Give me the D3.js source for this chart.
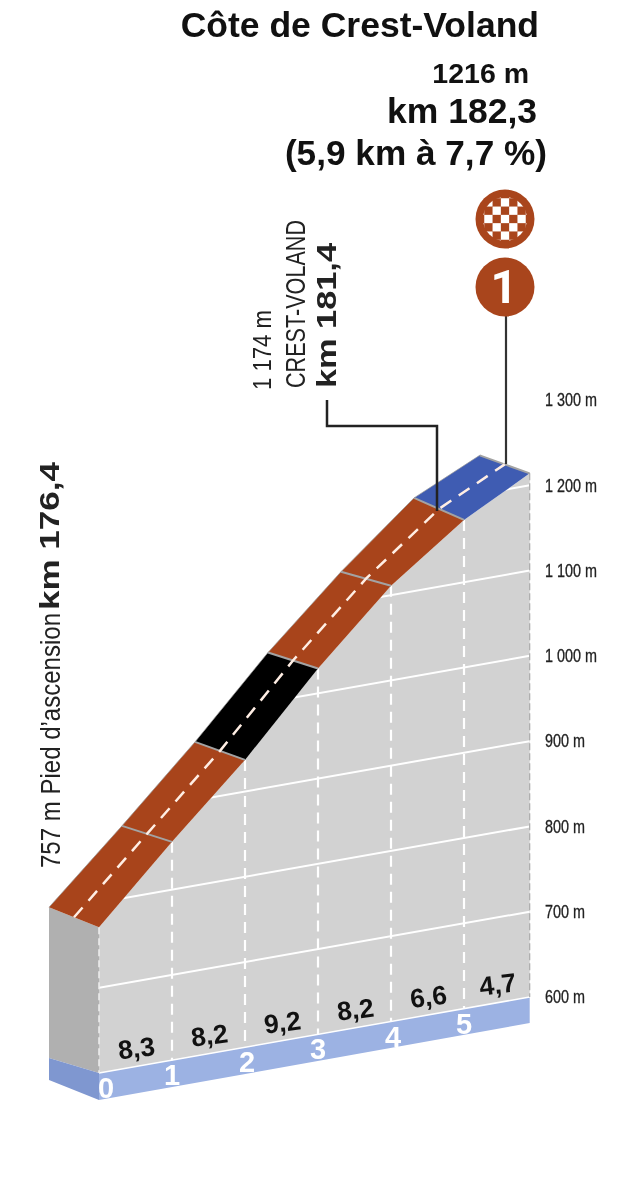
<!DOCTYPE html>
<html><head><meta charset="utf-8">
<script src="https://cdn.jsdelivr.net/npm/d3@7/dist/d3.min.js"></script>
<style>html,body{margin:0;background:#fff}svg{display:block;filter:blur(.4px)}</style>
</head><body><div id="chart"></div>
<script>
const kmMarks=[0,1,2,3,4,5,5.9];
const elevations=[771,856,937,1029,1111,1173,1214];
const gradients=["8,3","8,2","9,2","8,2","6,6","4,7"];
const segmentKinds=["hard","hard","extreme","hard","hard","easy"];
const kmLabels=[0,1,2,3,4,5];
const altTicks=[600,700,800,900,1000,1100,1200,1300];
const gridAlts=[700,800,900,1000,1100,1200];
const colors={hard:"#a8441b",extreme:"#000",easy:"#3f5cb2"};

const W=618,H=1200;
const SANS="'Liberation Sans',Arial,sans-serif";
const svg=d3.select("#chart").append("svg").attr("width",W).attr("height",H).attr("viewBox",[0,0,W,H]);
const x=d3.scaleLinear().domain([0,5]).range([99,464]);
const yRight=d3.scaleLinear().domain([600,1300]).range([997,400]);
const xEnd=x(5.9), skew=0.1767;
const y=(alt,px)=>yRight(alt)+skew*(xEnd-px);
const depthX=-50, edgeLift=[20,16,18,16,14,22,18], baseH=26;
const pts=kmMarks.map((k,i)=>{
  const px=x(k),py=y(elevations[i],px);
  return {k,px,py,bx:px+depthX,by:py-edgeLift[i]};
});
const baseY=px=>y(600,px);
const poly=a=>a.map(p=>p.join(",")).join(" ");

// clip + main face
const facePts=[...pts.map(p=>[p.px,p.py]),[xEnd,baseY(xEnd)],[x(0),baseY(x(0))]];
svg.append("clipPath").attr("id","face").append("polygon").attr("points",poly(facePts));
svg.append("polygon").attr("points",poly(facePts)).attr("fill","#d2d2d2");

// left face
const x0=x(0), bx=x0+depthX;
svg.append("polygon").attr("fill","#b0b0b0")
  .attr("points",poly([[bx,pts[0].by],[x0,pts[0].py],[x0,baseY(x0)],[bx,baseY(x0)-15]]));
// base
svg.append("polygon").attr("fill","#7f97d0")
  .attr("points",poly([[bx,baseY(x0)-15],[x0,baseY(x0)],[x0,baseY(x0)+baseH+1],[bx,baseY(x0)+7]]));
svg.append("polygon").attr("fill","#9cb2e3")
  .attr("points",poly([[x0,baseY(x0)],[xEnd,baseY(xEnd)],[xEnd,baseY(xEnd)+baseH],[x0,baseY(x0)+baseH+1]]));

// grid
const grid=svg.append("g").attr("clip-path","url(#face)");
grid.selectAll("line").data(gridAlts).join("line")
  .attr("x1",x0).attr("x2",xEnd)
  .attr("y1",d=>y(d,x0)).attr("y2",d=>y(d,xEnd))
  .attr("stroke","#fff").attr("stroke-width",2);
svg.append("line").attr("x1",x0).attr("x2",xEnd).attr("y1",baseY(x0)).attr("y2",baseY(xEnd)).attr("stroke","#fff").attr("stroke-width",1.5);

// km verticals
svg.append("g").selectAll("line").data(pts.slice(1,6)).join("line")
  .attr("x1",d=>d.px).attr("x2",d=>d.px).attr("y1",d=>d.py).attr("y2",d=>baseY(d.px))
  .attr("stroke","#fff").attr("stroke-width",2.2).attr("stroke-dasharray","11,7");
svg.append("line").attr("x1",x0).attr("x2",x0).attr("y1",pts[0].py).attr("y2",baseY(x0))
  .attr("stroke","#eee").attr("stroke-width",1.5).attr("stroke-dasharray","7,4");
svg.append("line").attr("x1",xEnd).attr("x2",xEnd).attr("y1",pts[6].py).attr("y2",baseY(xEnd))
  .attr("stroke","#aaa").attr("stroke-width",1.2).attr("stroke-dasharray","7,3");

// road segments
const road=svg.append("g");
road.selectAll("polygon").data(segmentKinds).join("polygon")
  .attr("fill",d=>colors[d])
  .attr("points",(d,i)=>{
    const a=pts[i],b=pts[i+1];
    return poly([[a.px,a.py],[b.px,b.py],[b.bx,b.by],[a.bx,a.by]]);
  });
road.append("path").attr("fill","none").attr("stroke","#999").attr("stroke-width",1).attr("opacity",.7)
  .attr("d",d3.line()(pts.map(p=>[p.bx,p.by])));
road.selectAll("line.sep").data(pts.slice(1)).join("line").attr("class","sep")
  .attr("x1",d=>d.px).attr("y1",d=>d.py).attr("x2",d=>d.bx).attr("y2",d=>d.by)
  .attr("stroke","#a3a3a3").attr("stroke-width",2);
road.append("path").attr("fill","none").attr("stroke","#ffeee4").attr("stroke-width",2.5)
  .attr("stroke-dasharray","13,9")
  .attr("d",d3.line()(pts.map(p=>[(p.px+p.bx)/2,(p.py+p.by)/2])));

// gradient labels
svg.append("g").selectAll("text").data(gradients).join("text")
  .attr("transform",(d,i)=>{
    const mx=(pts[i].px+pts[i+1].px)/2+2;
    return `translate(${mx},${baseY(mx)-9}) rotate(-7)`;
  })
  .attr("text-anchor","middle").attr("font-family",SANS).attr("font-weight",700)
  .attr("font-size",26.5).attr("fill","#111").text(d=>d);
// km labels
svg.append("g").selectAll("text").data(kmLabels).join("text")
  .attr("x",d=>x(d)+(d===0?7:d===2||d===4?2:0))
  .attr("y",d=>baseY(x(d))+25)
  .attr("text-anchor","middle").attr("font-family",SANS).attr("font-weight",700)
  .attr("font-size",29).attr("fill","#fff").text(d=>d);

// altitude axis
const axis=d3.axisRight(yRight).tickValues(altTicks).tickSize(0).tickPadding(0)
  .tickFormat(d=>(d>=1000?`${Math.floor(d/1000)} ${String(d%1000).padStart(3,"0")}`:d)+" m");
const ag=svg.append("g").attr("transform","translate(545,0)").call(axis);
ag.select(".domain").remove();
ag.selectAll("text").attr("font-family",SANS).attr("font-size",18).attr("font-weight",400).attr("fill","#222")
  .attr("stroke","#222").attr("stroke-width",.3).attr("transform","scale(.8,1)");

// leaders
svg.append("path").attr("fill","none").attr("stroke","#222").attr("stroke-width",2.5)
  .attr("d",d3.line()([[327,400],[327,426],[437,426],[437,511]]));
svg.append("line").attr("x1",506).attr("x2",506).attr("y1",310).attr("y2",464).attr("stroke","#333").attr("stroke-width",2.2);

// badges
const brown="#a9451c";
const cx=505,cy1=219,cy2=287,r=29.5;
svg.append("circle").attr("cx",cx).attr("cy",cy1).attr("r",r).attr("fill",brown);
svg.append("circle").attr("cx",cx).attr("cy",cy2).attr("r",r).attr("fill",brown);
svg.append("clipPath").attr("id","ball").append("circle").attr("cx",cx).attr("cy",cy1).attr("r",22);
const s=8.3, cells=d3.range(-3,4).flatMap(a=>d3.range(-3,4).map(b=>[a,b])).filter(([a,b])=>(a+b+6)%2===0);
svg.append("g").attr("clip-path","url(#ball)").selectAll("rect").data(cells).join("rect")
  .attr("x",d=>cx+d[0]*s-s/2).attr("y",d=>cy1+d[1]*s-s/2).attr("width",s).attr("height",s).attr("fill","#fff");
svg.append("text").attr("x",cx-1).attr("y",cy2+16).attr("text-anchor","middle").attr("font-family","Roboto,sans-serif")
  .attr("font-weight",700).attr("font-size",47).attr("fill","#fff").text("1");

// header text
const head=[["Côte de Crest-Voland",539,37,35.5],["1216 m",529,83,28.5],["km 182,3",537,123,35.5],["(5,9 km à 7,7 %)",547,165,35.2]];
svg.append("g").selectAll("text").data(head).join("text")
  .attr("x",d=>d[1]).attr("y",d=>d[2]).attr("font-size",d=>d[3])
  .attr("text-anchor","end").attr("font-family",SANS).attr("font-weight",700).attr("fill","#111").text(d=>d[0]);

// rotated text, fitted to the reference's condensed lengths
function vtext(px,py,txt,size,weight,len){
  svg.append("text").attr("transform",`translate(${px},${py}) rotate(-90)`).attr("fill","#222")
    .attr("font-family",SANS).attr("font-size",size).attr("font-weight",weight)
    .attr("textLength",len).attr("lengthAdjust","spacingAndGlyphs").text(txt);
}
vtext(60,868,"757 m Pied d’ascension",27,400,255);
vtext(59,610,"km 176,4",28,700,148);
vtext(271,390,"1 174 m",26,400,80);
vtext(305,388,"CREST-VOLAND",28,400,168);
vtext(336,388,"km 181,4",28,700,145);
</script></body></html>
